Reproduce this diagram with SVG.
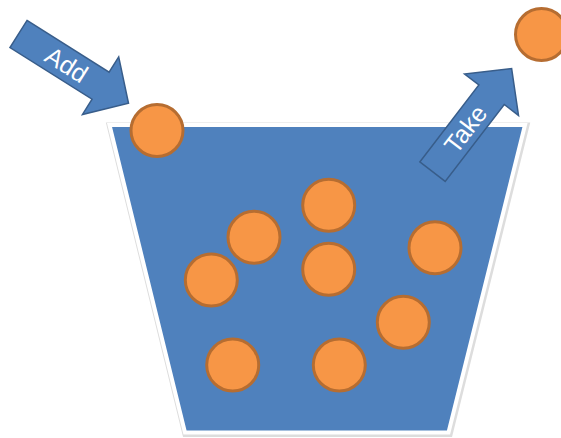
<svg xmlns="http://www.w3.org/2000/svg" width="561" height="438" viewBox="0 0 561 438">
<style>
.ball{fill:#F79646;stroke:#B66D31;stroke-width:3}
.arrow{fill:#4F81BD;stroke:#385D8A;stroke-width:1.5;stroke-linejoin:miter}
.lbl{font-family:"Liberation Sans","Open Sans",sans-serif;font-size:25px;fill:#FFFFFF;text-anchor:middle}
</style>
<defs>
<path id="arr" d="M0,-16 L97,-16 L97,-34 L130,0 L97,34 L97,16 L0,16 Z"/>
</defs>
<rect width="561" height="438" fill="#FFFFFF"/>
<g id="bucket">
<polygon points="109.5,125 525,125 448.5,432.5 185,432.5" fill="none" stroke="#DDDDDD" stroke-width="7" transform="translate(0.8,1)"/>
<polygon points="109.5,125 525,125 448.5,432.5 185,432.5" fill="#4F81BD" stroke="#FFFFFF" stroke-width="4"/>
</g>
<g id="balls">
<circle class="ball" cx="157" cy="130.5" r="26"/>
<circle class="ball" cx="328.7" cy="205.3" r="26"/>
<circle class="ball" cx="254" cy="237.3" r="26"/>
<circle class="ball" cx="435" cy="247.7" r="26"/>
<circle class="ball" cx="211.3" cy="280" r="26"/>
<circle class="ball" cx="328.7" cy="269.3" r="26"/>
<circle class="ball" cx="403.3" cy="322.3" r="26"/>
<circle class="ball" cx="232.7" cy="365" r="26"/>
<circle class="ball" cx="339.3" cy="365" r="26"/>
<circle class="ball" cx="541.5" cy="34.5" r="26"/>
</g>
<g id="add">
<g transform="translate(18.5,34) rotate(32.2)">
<use href="#arr" class="arrow"/>
<text class="lbl" x="57" y="9">Add</text>
</g>
</g>
<g id="take">
<g transform="translate(432.5,171.7) rotate(-52.5)">
<use href="#arr" class="arrow"/>
<text class="lbl" x="54" y="9">Take</text>
</g>
</g>
</svg>
